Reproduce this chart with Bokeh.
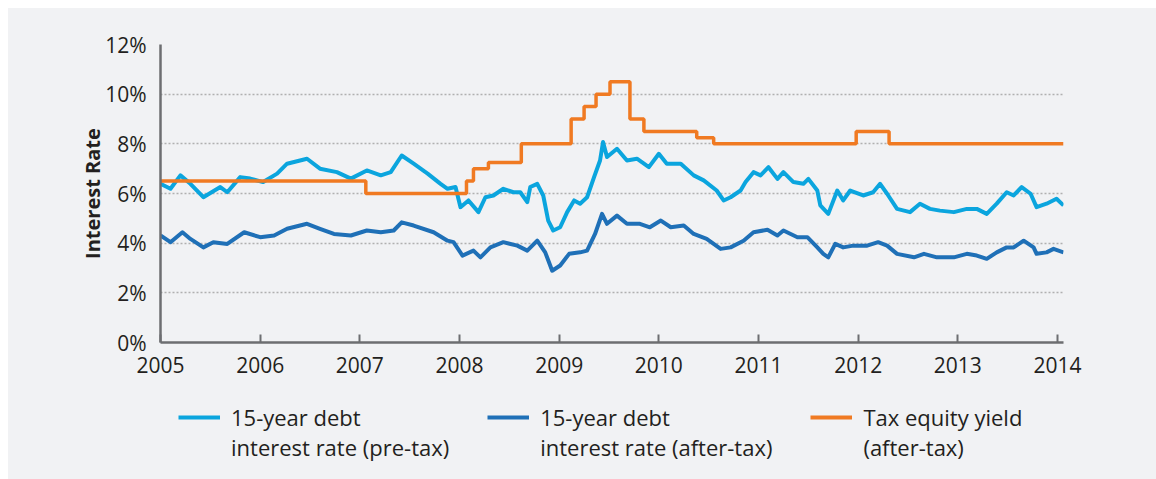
from bokeh.plotting import figure
from bokeh.layouts import column
from bokeh.models import (FixedTicker, PrintfTickFormatter, Range1d, Legend, LegendItem)
from bokeh.embed import file_html
from bokeh.resources import INLINE

# ---- data (decimal years, percent) ----
pre_years = [2005.00, 2005.10, 2005.20, 2005.30, 2005.43, 2005.60, 2005.67, 2005.80, 2005.90,
             2006.03, 2006.17, 2006.27, 2006.47, 2006.60, 2006.77, 2006.91, 2007.07, 2007.21,
             2007.31, 2007.42, 2007.54, 2007.68, 2007.81, 2007.88, 2007.96, 2008.01, 2008.09,
             2008.19, 2008.26, 2008.34, 2008.44, 2008.54, 2008.61, 2008.68, 2008.71, 2008.78,
             2008.84, 2008.89, 2008.94, 2009.01, 2009.08, 2009.15, 2009.21, 2009.28, 2009.35,
             2009.41, 2009.44, 2009.48, 2009.58, 2009.68, 2009.78, 2009.90, 2010.00, 2010.08,
             2010.22, 2010.35, 2010.45, 2010.58, 2010.65, 2010.72, 2010.82, 2010.87, 2010.95,
             2011.02, 2011.10, 2011.19, 2011.25, 2011.35, 2011.45, 2011.50, 2011.59, 2011.62,
             2011.70, 2011.79, 2011.85, 2011.92, 2012.05, 2012.15, 2012.22, 2012.29, 2012.39,
             2012.52, 2012.62, 2012.72, 2012.82, 2012.96, 2013.09, 2013.19, 2013.29, 2013.39,
             2013.49, 2013.56, 2013.64, 2013.73, 2013.79, 2013.89, 2013.99, 2014.06]
pre_tax = [6.39, 6.19, 6.73, 6.39, 5.85, 6.26, 6.05, 6.66, 6.60,
           6.46, 6.80, 7.20, 7.40, 7.00, 6.86, 6.60, 6.93, 6.73,
           6.86, 7.53, 7.20, 6.80, 6.39, 6.19, 6.26, 5.45, 5.72,
           5.25, 5.85, 5.92, 6.19, 6.05, 6.05, 5.65, 6.26, 6.39,
           5.92, 4.91, 4.51, 4.64, 5.25, 5.72, 5.59, 5.85, 6.66,
           7.33, 8.07, 7.47, 7.80, 7.33, 7.40, 7.06, 7.60, 7.20,
           7.20, 6.73, 6.53, 6.12, 5.72, 5.85, 6.12, 6.46, 6.86,
           6.73, 7.06, 6.59, 6.86, 6.46, 6.39, 6.59, 6.12, 5.52,
           5.18, 6.12, 5.72, 6.12, 5.92, 6.05, 6.39, 5.99, 5.38,
           5.25, 5.59, 5.38, 5.31, 5.25, 5.38, 5.38, 5.18, 5.59,
           6.05, 5.92, 6.26, 5.99, 5.45, 5.59, 5.79, 5.52]

after_years = [2005.00, 2005.10, 2005.22, 2005.30, 2005.43, 2005.53, 2005.67, 2005.84, 2006.00,
               2006.14, 2006.27, 2006.47, 2006.60, 2006.74, 2006.91, 2007.07, 2007.21, 2007.34,
               2007.42, 2007.54, 2007.74, 2007.88, 2007.94, 2008.03, 2008.14, 2008.21, 2008.31,
               2008.44, 2008.58, 2008.68, 2008.78, 2008.86, 2008.93, 2009.01, 2009.10, 2009.21,
               2009.28, 2009.36, 2009.43, 2009.48, 2009.58, 2009.68, 2009.81, 2009.91, 2010.02,
               2010.12, 2010.25, 2010.35, 2010.48, 2010.62, 2010.72, 2010.85, 2010.95, 2011.09,
               2011.19, 2011.25, 2011.39, 2011.49, 2011.59, 2011.65, 2011.70, 2011.77, 2011.85,
               2011.95, 2012.09, 2012.20, 2012.29, 2012.39, 2012.56, 2012.66, 2012.79, 2012.96,
               2013.09, 2013.19, 2013.29, 2013.39, 2013.49, 2013.56, 2013.66, 2013.76, 2013.79,
               2013.89, 2013.96, 2014.06]
after_tax = [4.31, 4.04, 4.44, 4.17, 3.83, 4.04, 3.97, 4.44, 4.24,
             4.31, 4.58, 4.78, 4.58, 4.37, 4.31, 4.51, 4.44, 4.51,
             4.84, 4.71, 4.44, 4.10, 4.04, 3.50, 3.70, 3.43, 3.83,
             4.04, 3.90, 3.70, 4.10, 3.63, 2.89, 3.10, 3.57, 3.63,
             3.70, 4.37, 5.18, 4.78, 5.11, 4.78, 4.78, 4.64, 4.91,
             4.64, 4.71, 4.37, 4.17, 3.77, 3.83, 4.10, 4.44, 4.54,
             4.31, 4.51, 4.24, 4.24, 3.83, 3.57, 3.43, 3.97, 3.83,
             3.90, 3.90, 4.04, 3.90, 3.57, 3.43, 3.57, 3.43, 3.43,
             3.57, 3.50, 3.37, 3.63, 3.83, 3.83, 4.10, 3.83, 3.57,
             3.63, 3.77, 3.63]

equity_years = [2005.00, 2007.06, 2008.07, 2008.14, 2008.29, 2008.62, 2009.12, 2009.25, 2009.37,
                2009.51, 2009.71, 2009.85, 2010.38, 2010.55, 2011.98, 2012.31, 2014.06]
equity_yield = [6.5, 6.0, 6.5, 7.0, 7.25, 8.0, 9.0, 9.5, 10.0,
                10.5, 9.0, 8.5, 8.25, 8.0, 8.5, 8.0, 8.0]

x_ticks = [2005, 2006, 2007, 2008, 2009, 2010, 2011, 2012, 2013, 2014]
y_ticks = [0, 2, 4, 6, 8, 10, 12]

labels = ["15-year debt\ninterest rate (pre-tax)",
          "15-year debt\ninterest rate (after-tax)",
          "Tax equity yield\n(after-tax)"]

BG = "#f1f2f4"
FONT = "Open Sans"
TXT = "#231f20"
AX = "#6d6e71"
C_PRE = "#0ba5de"
C_AFTER = "#1f70b7"
C_EQ = "#f07a22"
NAN = float("nan")

p = figure(width=1148, height=377, output_backend="svg", toolbar_location=None,
           x_range=Range1d(2005.0, 2014.06), y_range=Range1d(0, 12),
           min_border_left=152, min_border_right=93, min_border_top=36, min_border_bottom=43)
p.background_fill_color = BG
p.border_fill_color = BG
p.outline_line_color = None

p.line(pre_years, pre_tax, line_color=C_PRE, line_width=4, line_join="round")
p.line(after_years, after_tax, line_color=C_AFTER, line_width=4, line_join="round")
p.step(equity_years, equity_yield, mode="after", line_color=C_EQ, line_width=3.5)

p.xgrid.grid_line_color = None
p.ygrid.ticker = FixedTicker(ticks=y_ticks)
p.ygrid.grid_line_color = "#b0b0b0"
p.ygrid.grid_line_dash = "2 2"
p.ygrid.grid_line_width = 1.5

xa = p.xaxis[0]
xa.ticker = FixedTicker(ticks=x_ticks)
xa.formatter = PrintfTickFormatter(format="%d")
xa.axis_line_color = AX
xa.axis_line_width = 2.5
xa.major_tick_line_color = AX
xa.major_tick_line_width = 2
xa.major_tick_in = 8
xa.major_tick_out = 0
xa.minor_tick_line_color = None
xa.major_label_text_font = FONT
xa.major_label_text_font_size = "21px"
xa.major_label_text_color = TXT
xa.major_label_standoff = 14

ya = p.yaxis[0]
ya.ticker = FixedTicker(ticks=y_ticks)
ya.formatter = PrintfTickFormatter(format="%d%%")
ya.axis_line_color = AX
ya.axis_line_width = 2.5
ya.major_tick_line_color = None
ya.major_tick_in = 0
ya.major_tick_out = 0
ya.minor_tick_line_color = None
ya.major_label_text_font = FONT
ya.major_label_text_font_size = "21px"
ya.major_label_text_color = TXT
ya.major_label_standoff = 14
ya.axis_label = "Interest Rate"
ya.axis_label_text_font = FONT
ya.axis_label_text_font_size = "20px"
ya.axis_label_text_font_style = "bold"
ya.axis_label_text_color = TXT
ya.axis_label_standoff = -4

# ---- legend panel below the chart (proxies carry only the line styles) ----
lg = figure(width=1148, height=94, output_backend="svg", toolbar_location=None,
            x_axis_type=None, y_axis_type=None,
            x_range=Range1d(0, 1), y_range=Range1d(0, 1),
            min_border_left=152, min_border_right=93, min_border_top=0, min_border_bottom=0)
lg.background_fill_color = BG
lg.border_fill_color = BG
lg.outline_line_color = None
lg.xgrid.grid_line_color = None
lg.ygrid.grid_line_color = None
k_pre = lg.line([NAN], [NAN], line_color=C_PRE, line_width=4)
k_after = lg.line([NAN], [NAN], line_color=C_AFTER, line_width=4)
k_eq = lg.line([NAN], [NAN], line_color=C_EQ, line_width=4)

# a leading empty line keeps each swatch level with the first line of its label
legend = Legend(items=[LegendItem(label="\n" + labels[0], renderers=[k_pre]),
                       LegendItem(label="\n" + labels[1], renderers=[k_after]),
                       LegendItem(label="\n" + labels[2], renderers=[k_eq])],
                orientation="horizontal", location=(18, 17),
                background_fill_alpha=0, border_line_color=None,
                padding=0, margin=0, spacing=38,
                glyph_width=42, label_standoff=11,
                label_text_font=FONT, label_text_font_size="22px",
                label_text_color=TXT, label_text_line_height=1.21)
lg.add_layout(legend, "center")

layout = column(p, lg, spacing=0, margin=(8, 0, 0, 8), styles={"background-color": BG})
open("out.html", "w").write(file_html(layout, INLINE))
